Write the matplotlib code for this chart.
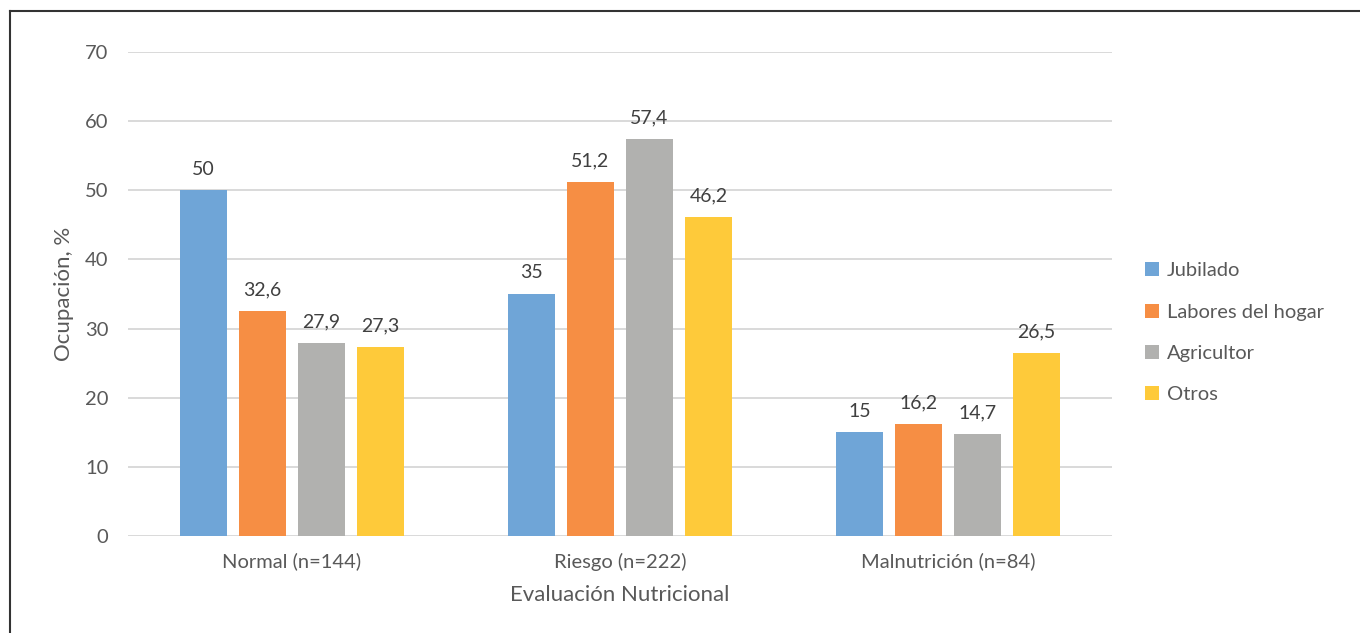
import numpy as np
import matplotlib.pyplot as plt
from matplotlib.lines import Line2D

categories = ["Normal (n=144)", "Riesgo (n=222)", "Malnutrición (n=84)"]
jubilado = [50, 35, 15]
labores = [32.6, 51.2, 16.2]
agricultor = [27.9, 57.4, 14.7]
otros = [27.3, 46.2, 26.5]
series_names = ["Jubilado", "Labores del hogar", "Agricultor", "Otros"]
series_colors = ["#6FA5D7", "#F68E44", "#B1B1AF", "#FECA3A"]

plt.rcParams['font.family'] = ['Lato', 'DejaVu Sans']
txt = "#595959"

fig = plt.figure(figsize=(13.6, 6.33), dpi=100)
ax = fig.add_axes([0.0941, 0.1532, 0.7235, 0.7647])

x = np.arange(len(categories))
pitch = 0.18
width = 0.143
series = [jubilado, labores, agricultor, otros]
for i, (vals, name, col) in enumerate(zip(series, series_names, series_colors)):
    pos = x + (i - 1.5) * pitch
    bars = ax.bar(pos, vals, width, color=col, label=name, zorder=3)
    for b, v in zip(bars, vals):
        lab = f"{v:g}".replace(".", ",")
        ax.annotate(lab, (b.get_x() + b.get_width() / 2, v), xytext=(0, 9),
                    textcoords="offset points", ha="center", va="bottom",
                    fontsize=14, color="#404040")

ax.set_xlim(-0.5, 2.5)
ax.set_ylim(0, 70)
ax.set_yticks(range(0, 71, 10))
ax.set_xticks(x)
ax.set_xticklabels(categories)
ax.grid(axis="y", color="#D9D9D9", linewidth=1.4, zorder=0)
for s in ax.spines.values():
    s.set_visible(False)
ax.tick_params(length=0, labelsize=14.5, colors=txt)
ax.tick_params(axis="y", pad=14)
ax.tick_params(axis="x", pad=12)
ax.set_ylabel("Ocupación, %", fontsize=16, color=txt, labelpad=8)
ax.set_xlabel("Evaluación Nutricional", fontsize=16, color=txt, labelpad=10)

leg = ax.legend(loc="center left", bbox_to_anchor=(1.015, 0.42), frameon=False,
                fontsize=14.5, handlelength=0.7, handleheight=0.7,
                handletextpad=0.4, labelspacing=1.2)
for t in leg.get_texts():
    t.set_color(txt)

# frame lines at top and left
fig.add_artist(Line2D([10 / 1360, 10 / 1360], [0, 1 - 11 / 633], color="#333333", lw=1.5))
fig.add_artist(Line2D([10 / 1360, 1], [1 - 11 / 633, 1 - 11 / 633], color="#333333", lw=1.5))

fig.savefig("out.png", dpi=100)
